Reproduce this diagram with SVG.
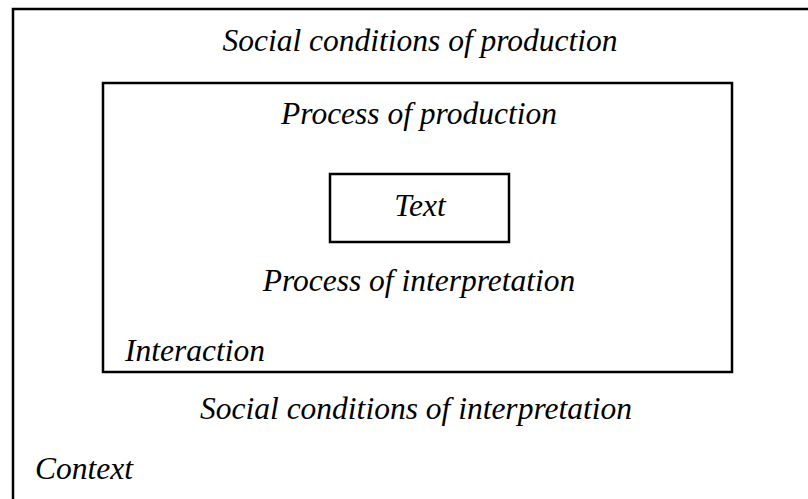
<svg xmlns="http://www.w3.org/2000/svg" width="808" height="499" viewBox="0 0 808 499">
<style>
.b{fill:none;stroke:#000;stroke-width:2.5}
.t{font-family:"Liberation Serif","Times New Roman",serif;font-style:italic;font-size:31.5px;fill:#000}
.c{text-anchor:middle}
</style>
<rect width="808" height="499" fill="#fff"/>
<g id="context">
<rect class="b" x="13" y="9" width="800" height="500"/>
<text class="t c" x="420" y="51">Social conditions of production</text>
<text class="t c" x="416" y="419">Social conditions of interpretation</text>
<text class="t" x="35" y="479">Context</text>
</g>
<g id="interaction">
<rect class="b" x="103" y="83" width="629" height="289"/>
<text class="t c" x="419" y="124">Process of production</text>
<text class="t c" x="419" y="291">Process of interpretation</text>
<text class="t" x="125" y="361">Interaction</text>
</g>
<g id="text">
<rect class="b" x="330" y="174" width="179" height="68"/>
<text class="t c" x="420" y="216">Text</text>
</g>
<g id="connectors"/>
</svg>
